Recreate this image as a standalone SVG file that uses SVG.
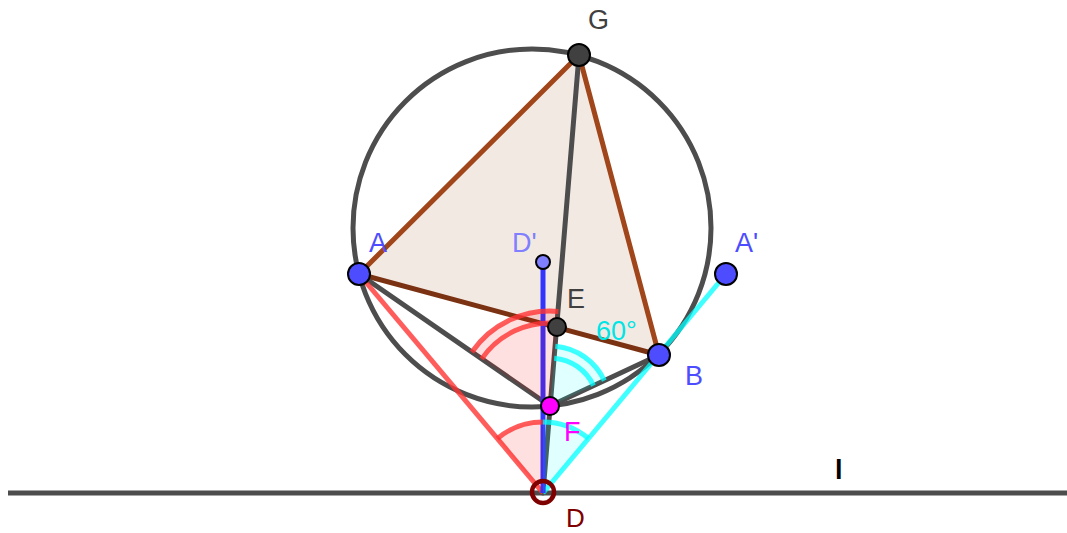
<svg xmlns="http://www.w3.org/2000/svg" width="1067" height="533" viewBox="0 0 1067 533">
<style>
.lbl{font-family:"Liberation Sans",Arial,sans-serif;font-size:27px}
.gray{stroke:#4d4d4d;stroke-width:5;fill:none;stroke-linecap:round}
.brown{stroke:#a0461a;stroke-width:5;fill:none;stroke-linecap:round}
.pt{stroke:#000;stroke-width:2}
</style>
<rect width="1067" height="533" fill="#fff"/>
<g id="connectors">
  <line id="line-l" x1="8" y1="493" x2="1067" y2="493" stroke="#4d4d4d" stroke-width="5"/>
  <circle id="circle" cx="532" cy="228" r="179" class="gray"/>
  <polygon id="triangle" points="359,274 579,55 659,355" fill="#a0461a" fill-opacity="0.12" stroke="none"/>
  <line x1="359" y1="274" x2="579" y2="55" class="brown"/>
  <line x1="579" y1="55" x2="659" y2="355" class="brown"/>
  <line x1="359" y1="274" x2="659" y2="355" stroke="#7b3212" stroke-width="5" stroke-linecap="round"/>
  <line x1="579" y1="55" x2="543" y2="493" class="gray"/>
  <line x1="359" y1="274" x2="550" y2="406" class="gray"/>
  <line x1="550" y1="406" x2="659" y2="355" class="gray"/>
  <line x1="359" y1="274" x2="543" y2="493" stroke="#ff3333" stroke-opacity="0.8" stroke-width="5"/>
  <line x1="543" y1="493" x2="726" y2="274" stroke="#00ffff" stroke-opacity="0.75" stroke-width="5"/>
  <line x1="543" y1="262" x2="543" y2="493" stroke="#3333ff" stroke-width="5"/>
</g>
<g id="angles">
  <path d="M550,406 L471.9,352 A95,95 0 0 1 558.4,311.4 Z" fill="#ff0000" fill-opacity="0.12" stroke="none"/>
  <path d="M471.9,352 A95,95 0 0 1 558.4,311.4" fill="none" stroke="#ff3333" stroke-opacity="0.8" stroke-width="5"/>
  <path d="M481.7,358.8 A83,83 0 0 1 557.3,323.3" fill="none" stroke="#ff3333" stroke-opacity="0.8" stroke-width="5"/>
  <path d="M550,406 L555.3,346.2 A60,60 0 0 1 604.4,380.6 Z" fill="#00ffff" fill-opacity="0.12" stroke="none"/>
  <path d="M555.3,346.2 A60,60 0 0 1 604.4,380.6" fill="none" stroke="#00ffff" stroke-opacity="0.75" stroke-width="5"/>
  <path d="M554.2,358.2 A48,48 0 0 1 593.5,385.6" fill="none" stroke="#00ffff" stroke-opacity="0.75" stroke-width="5"/>
  <path d="M543,493 L497.3,438.6 A71,71 0 0 1 543,422 Z" fill="#ff0000" fill-opacity="0.12" stroke="none"/>
  <path d="M497.3,438.6 A71,71 0 0 1 543,422" fill="none" stroke="#ff3333" stroke-opacity="0.8" stroke-width="5"/>
  <path d="M543,493 L543,422 A71,71 0 0 1 588.5,438.5 Z" fill="#00ffff" fill-opacity="0.12" stroke="none"/>
  <path d="M543,422 A71,71 0 0 1 588.5,438.5" fill="none" stroke="#00ffff" stroke-opacity="0.75" stroke-width="5"/>
  <text class="lbl" x="596" y="340" fill="#00e5e5">60°</text>
</g>
<g id="node-G"><circle cx="579" cy="55" r="11" fill="#404040" class="pt"/><text class="lbl" x="588" y="29" fill="#404040">G</text></g>
<g id="node-A"><circle cx="359" cy="274" r="11" fill="#4d4dff" class="pt"/><text class="lbl" x="369" y="252" fill="#4d4dff">A</text></g>
<g id="node-B"><circle cx="659" cy="355" r="11" fill="#4d4dff" class="pt"/><text class="lbl" x="685" y="385" fill="#4d4dff">B</text></g>
<g id="node-Aprime"><circle cx="726" cy="274" r="11" fill="#4d4dff" class="pt"/><text class="lbl" x="735" y="252" fill="#4d4dff">A'</text></g>
<g id="node-Dprime"><circle cx="543" cy="262" r="7" fill="#7f7fff" class="pt"/><text class="lbl" x="512" y="252" fill="#7f7fff">D'</text></g>
<g id="node-E"><circle cx="557" cy="327" r="9" fill="#404040" class="pt"/><text class="lbl" x="567" y="308" fill="#404040">E</text></g>
<g id="node-F"><circle cx="550" cy="406" r="9" fill="#ff00ff" class="pt"/><text class="lbl" x="564" y="441" fill="#ff00ff">F</text></g>
<g id="node-D"><circle cx="543" cy="492" r="11" fill="none" stroke="#7f0000" stroke-width="4.5"/><text x="566" y="527" font-family="Liberation Sans,Arial,sans-serif" font-size="26" fill="#7f0000">D</text></g>
<g id="label-l"><text x="835" y="479" font-family="Liberation Sans,Arial,sans-serif" font-size="27" font-weight="bold" fill="#000">l</text></g>
</svg>
